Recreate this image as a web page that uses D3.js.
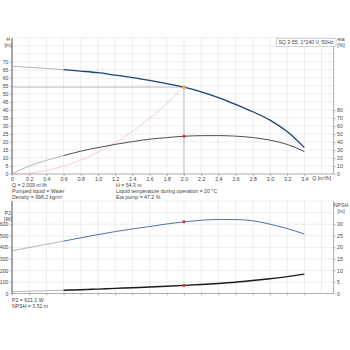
<!DOCTYPE html>
<html><head><meta charset="utf-8">
<script src="https://cdn.jsdelivr.net/npm/d3@7/dist/d3.min.js"></script>
<style>body{margin:0;background:#fff}svg{display:block;font-family:"Liberation Sans",Arial,sans-serif}</style>
</head><body><svg id="c" width="350" height="350"></svg>
<script>
// ---- data ----
const flowQ   = [0,0.2,0.4,0.6,0.8,1.0,1.2,1.4,1.6,1.8,2.0,2.2,2.4,2.6,2.8,3.0,3.2,3.4];
const headH   = [67.4,66.7,66.0,65.2,64.3,63.3,61.8,60.3,58.5,56.5,54.3,51.4,47.8,43.5,38.9,33.7,26.5,16.5];
const etaPump = [0,10,17,23,28.5,33,37,40.5,43.5,45.5,47.2,47.9,48,47.3,45.6,42.3,37,28];
const powerP2 = [370,398,426,454,482,510,536,559,580,602,621,634,641,640,630,600,562,515];
const npsh    = [0.8,1.0,1.2,1.4,1.65,1.9,2.2,2.5,2.8,3.15,3.51,3.9,4.35,4.9,5.6,6.4,7.3,8.4];
const sysQ    = [0,0.2,0.4,0.6,0.8,1.0,1.2,1.4,1.6,1.8,2.0];
const sysH    = [0,0.5,2.2,4.9,8.7,13.6,19.5,26.6,34.8,44,54.3];
const dutyQ = 2.0, dutyH = 54.3, dutyEta = 47.2, dutyP2 = 621.1, dutyNpsh = 3.51;
const recStart = 0.6;
const xTicks = [0,0.2,0.4,0.6,0.8,1.0,1.2,1.4,1.6,1.8,2.0,2.2,2.4,2.6,2.8,3.0,3.2,3.4];
const hTicks = [0,5,10,15,20,25,30,35,40,45,50,55,60,65,70];
const etaTicks = [0,10,20,30,40,50,60,70,80];
const p2Ticks = [0,100,200,300,400,500,600];
const npshTicks = [0,5,10,15,20,25,30];
const infoLeft = ["Q = 2.009 m\u00B3/h","Pumped liquid = Water","Density = 998.2 kg/m\u00B3"];
const infoMid  = ["H = 54.3 m","Liquid temperature during operation = 20 \u00B0C","Eta pump = 47.2 %"];
const infoLow  = ["P2 = 621.1 W","NPSH = 3.51 m"];
const title = "SQ 3-55, 1*240 V, 50Hz";

// ---- layout ----
const svg = d3.select("#c");
const xL = 12, xR = 333.6;
const x = d3.scaleLinear().domain([0,3.74]).range([xL,xR]);
const yH = d3.scaleLinear().domain([0,85]).range([174,38]);
const yEta = d3.scaleLinear().domain([0,170]).range([174,38]);
const yP = d3.scaleLinear().domain([0,800]).range([293.5,201.1]);
const yN = d3.scaleLinear().domain([0,40]).range([293.5,201.1]);
const fs = 5.2, txt = "#444", grid = "#dde1e6";
const gridQ = d3.range(0,3.61,0.2);

function frame(y, gridVals) {
  const g = svg.append("g");
  g.selectAll(".vg").data(gridQ).join("line")
    .attr("x1",d=>x(d)).attr("x2",d=>x(d)).attr("y1",y.range()[0]).attr("y2",y.range()[1])
    .attr("stroke",grid).attr("stroke-width",0.6);
  g.selectAll(".hg").data(gridVals).join("line")
    .attr("x1",xL).attr("x2",xR).attr("y1",d=>y(d)).attr("y2",d=>y(d))
    .attr("stroke",grid).attr("stroke-width",0.6);
  g.append("line").attr("x1",xL).attr("x2",xL).attr("y1",y.range()[0]).attr("y2",y.range()[1]).attr("stroke","#333").attr("stroke-width",0.8);
  g.append("line").attr("x1",xR).attr("x2",xR).attr("y1",y.range()[0]).attr("y2",y.range()[1]).attr("stroke","#777").attr("stroke-width",0.6);
  g.append("line").attr("x1",xL).attr("x2",xR).attr("y1",y.range()[0]).attr("y2",y.range()[0]).attr("stroke","#777").attr("stroke-width",0.6);
}
frame(yH, d3.range(5,86,5));
frame(yP, d3.range(100,801,100));

function axisStyle(g){
  g.selectAll("path").remove();
  g.selectAll("line").attr("stroke","#777").attr("stroke-width",0.5);
  g.selectAll("text").attr("font-size",fs).attr("fill",txt).attr("font-family","Liberation Sans, Arial, sans-serif");
}
svg.append("g").attr("transform",`translate(${xL},0)`).call(d3.axisLeft(yH).tickValues(hTicks).tickSize(2).tickPadding(1.5)).call(axisStyle);
svg.append("g").attr("transform",`translate(${xR},0)`).call(d3.axisRight(yEta).tickValues(etaTicks).tickSize(2).tickPadding(1.5)).call(axisStyle);
svg.append("g").attr("transform",`translate(0,174)`).call(d3.axisBottom(x).tickValues(xTicks).tickSize(2).tickPadding(1.5).tickFormat(d=>d===0?"0":d3.format(".1f")(d))).call(axisStyle);
svg.append("g").attr("transform",`translate(${xL},0)`).call(d3.axisLeft(yP).tickValues(p2Ticks).tickSize(2).tickPadding(1.5)).call(axisStyle);
svg.append("g").attr("transform",`translate(${xR},0)`).call(d3.axisRight(yN).tickValues(npshTicks).tickSize(2).tickPadding(1.5)).call(axisStyle);
svg.append("g").attr("transform",`translate(0,293.5)`).call(d3.axisBottom(x).tickValues(xTicks).tickSize(2).tickFormat("")).call(axisStyle);

function label(tx,ty,lines,anchor){
  const t = svg.append("text").attr("x",tx).attr("y",ty).attr("font-size",fs).attr("fill",txt).attr("text-anchor",anchor||"start");
  lines.forEach((l,i)=>t.append("tspan").attr("x",tx).attr("dy",i?6.2:0).text(l));
}
label(8,41,["H","[m]"],"middle");
label(341,41,["eta","[%]"],"middle");
label(8,215,["P2","[W]"],"middle");
label(341,207,["NPSH","[m]"],"middle");
svg.append("text").attr("x",x(3.6)).attr("y",180.3).attr("font-size",fs).attr("fill",txt).attr("text-anchor","middle").text("Q [m\u00B3/h]");
label(12,187,infoLeft);
label(116,187,infoMid);
label(12,302,infoLow);

// title box
const tb = svg.append("g");
const tt = tb.append("text").attr("x",306).attr("y",44).attr("font-size",fs).attr("fill",txt).attr("text-anchor","middle").text(title);
const bb = tt.node().getBBox();
tb.insert("rect","text").attr("x",bb.x-2).attr("y",38.5).attr("width",bb.width+4).attr("height",8).attr("fill","#fff").attr("stroke","#aaa").attr("stroke-width",0.5);

// curves
function curve(xs, ys, yS, color, w, from, to){
  const pts = xs.map((q,i)=>[q,ys[i]]).filter(p=>p[0]>=from-1e-9 && p[0]<=to+1e-9);
  svg.append("path").datum(pts)
    .attr("d", d3.line().x(d=>x(d[0])).y(d=>yS(d[1])).curve(d3.curveMonotoneX))
    .attr("fill","none").attr("stroke",color).attr("stroke-width",w);
}
// system curve
curve(sysQ, sysH, yH, "#efb0b0", 0.6, 0, 2.0);
// duty lines
svg.append("line").attr("x1",xL).attr("x2",x(dutyQ)).attr("y1",yH(dutyH)).attr("y2",yH(dutyH)).attr("stroke","#999").attr("stroke-width",0.6);
svg.append("line").attr("x1",x(dutyQ)).attr("x2",x(dutyQ)).attr("y1",yH(dutyH)).attr("y2",174).attr("stroke","#999").attr("stroke-width",0.6);

const last = flowQ[flowQ.length-1];
const thin = "#9098a2";
curve(flowQ, headH, yH, thin, 0.7, 0, recStart);
curve(flowQ, headH, yH, "#1e3f7a", 1.3, recStart, last);
curve(flowQ, etaPump, yEta, thin, 0.7, 0, recStart);
curve(flowQ, etaPump, yEta, "#3a3a3a", 0.9, recStart, last);
curve(flowQ, powerP2, yP, thin, 0.7, 0, recStart);
curve(flowQ, powerP2, yP, "#3d63a0", 0.9, recStart, last);
curve(flowQ, npsh, yN, thin, 0.7, 0, recStart);
curve(flowQ, npsh, yN, "#1a1a1a", 1.4, recStart, last);

// duty points
svg.append("circle").attr("cx",x(dutyQ)).attr("cy",yH(dutyH)).attr("r",1.8).attr("fill","#f5a623");
svg.append("circle").attr("cx",x(dutyQ)).attr("cy",yEta(dutyEta)).attr("r",1.5).attr("fill","#e8242a");
svg.append("circle").attr("cx",x(dutyQ)).attr("cy",yP(dutyP2)).attr("r",1.5).attr("fill","#e8242a");
svg.append("circle").attr("cx",x(dutyQ)).attr("cy",yN(dutyNpsh)).attr("r",1.5).attr("fill","#e8242a");
</script></body></html>
